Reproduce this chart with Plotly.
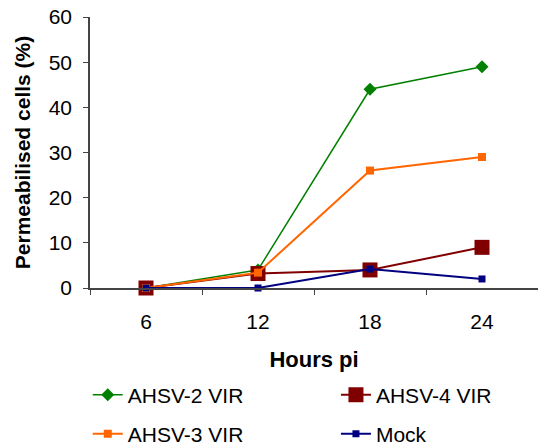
import plotly.graph_objects as go

# Hours post infection (category axis)
hours = ["6", "12", "18", "24"]

# Permeabilised cells (%) per series
ahsv2_vir = [0, 4, 44, 49]
ahsv4_vir = [0, 3.2, 4, 9]
ahsv3_vir = [0, 3.4, 26, 29]
mock = [0, 0, 4.2, 2]

y_ticks = [0, 10, 20, 30, 40, 50, 60]

FONT = "Liberation Sans, Arial, sans-serif"

fig = go.Figure()

fig.add_trace(go.Scatter(
    x=hours, y=ahsv2_vir, name="AHSV-2 VIR", mode="lines+markers",
    line=dict(color="#008000", width=1.5),
    marker=dict(symbol="diamond", size=10, color="#008000"),
    cliponaxis=False, legend="legend",
))
fig.add_trace(go.Scatter(
    x=hours, y=ahsv4_vir, name="AHSV-4 VIR", mode="lines+markers",
    line=dict(color="#800000", width=2),
    marker=dict(symbol="square", size=15, color="#800000"),
    cliponaxis=False, legend="legend2",
))
fig.add_trace(go.Scatter(
    x=hours, y=ahsv3_vir, name="AHSV-3 VIR", mode="lines+markers",
    line=dict(color="#FF6600", width=2),
    marker=dict(symbol="square", size=8, color="#FF6600"),
    cliponaxis=False, legend="legend3",
))
fig.add_trace(go.Scatter(
    x=hours, y=mock, name="Mock", mode="lines+markers",
    line=dict(color="#000080", width=2),
    marker=dict(symbol="square", size=7, color="#000080"),
    cliponaxis=False, legend="legend4",
))

legend_common = dict(
    orientation="h", xanchor="left", yanchor="middle",
    font=dict(family=FONT, size=21, color="#000000"),
    bgcolor="rgba(0,0,0,0)", borderwidth=0, itemclick=False,
)

fig.update_layout(
    width=538, height=445,
    margin=dict(l=90, r=0, t=17, b=157, autoexpand=False),
    paper_bgcolor="white", plot_bgcolor="white",
    font=dict(family=FONT, color="#000000"),
    showlegend=True,
    legend=dict(x=-0.005, y=-0.395, **legend_common),
    legend2=dict(x=0.549, y=-0.395, **legend_common),
    legend3=dict(x=-0.005, y=-0.539, **legend_common),
    legend4=dict(x=0.549, y=-0.539, **legend_common),
    xaxis=dict(
        type="category", range=[-0.5, 3.5],
        showline=True, linecolor="#444444", linewidth=1.5,
        ticks="outside", ticklen=5, tickcolor="#444444", tickson="boundaries",
        showgrid=False, zeroline=False,
        tickfont=dict(family=FONT, size=21), ticklabelstandoff=14,
        title=dict(text="<b>Hours pi</b>", font=dict(family=FONT, size=22), standoff=20),
    ),
    yaxis=dict(
        range=[0, 60], tickvals=y_ticks,
        showline=True, linecolor="#444444", linewidth=1.5,
        ticks="outside", ticklen=5, tickcolor="#444444",
        showgrid=False, zeroline=False,
        tickfont=dict(family=FONT, size=21), ticklabelstandoff=7,
        title=dict(text="<b>Permeabilised cells (%)</b>", font=dict(family=FONT, size=21), standoff=12),
    ),
)

fig.write_html("out.html")
